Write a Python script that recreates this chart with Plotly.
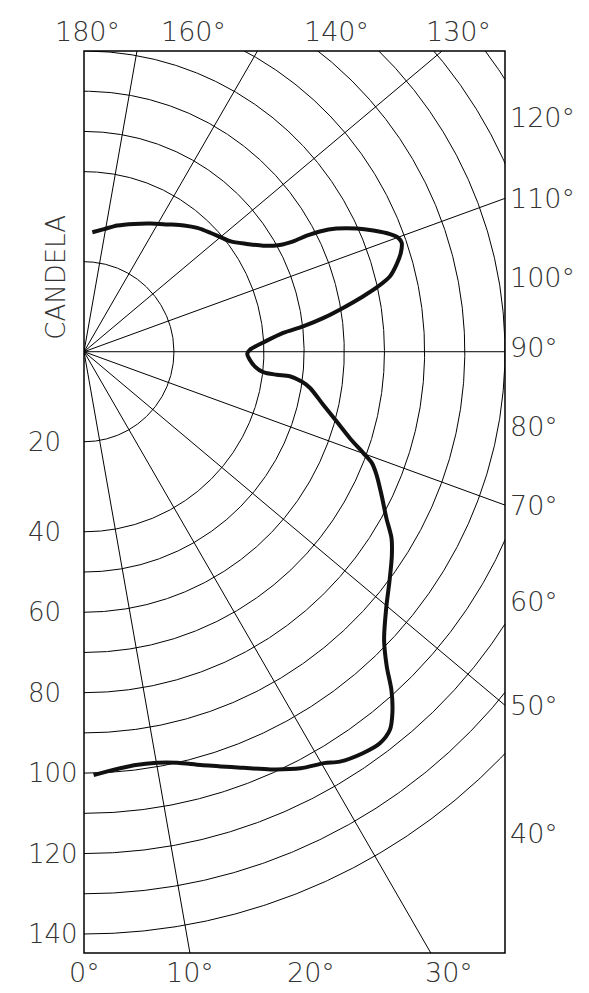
import numpy as np
import plotly.graph_objects as go

# ---------------- data ----------------
# luminous intensity curve: angle (deg, 0 = nadir/down, 90 = horizontal, 180 = up) and candela
angles = [1.3, 3.6, 6.9, 10.1, 12.8, 15.8, 19.9, 24.1, 27.5, 30.3, 32.0, 34.8, 37.1, 39.0,
          40.5, 42.3, 43.9, 46.2, 49.9, 53.3, 56.4, 58.8, 61.2, 64.3, 67.2, 68.9, 70.1, 72.0,
          74.6, 77.5, 80.9, 82.2, 83.2, 83.2, 83.5, 85.1, 87.2, 89.3, 90.7, 93.4, 95.4, 96.6,
          98.0, 99.6, 101.2, 102.5, 103.8, 105.6, 107.3, 108.9, 109.9, 111.0, 112.7, 114.3,
          116.0, 117.0, 117.5, 117.8, 118.6, 120.6, 123.5, 126.9, 130.0, 133.1, 137.5, 141.6,
          146.8, 152.5, 158.6, 165.2, 170.7, 176.0]
candela = [100.5, 99.6, 98.8, 99.0, 100.0, 102.0, 105.1, 109.0, 112.0, 113.7, 115.4, 116.8,
           117.3, 116.2, 113.4, 108.9, 103.9, 98.7, 93.6, 90.1, 87.2, 84.7, 81.1, 77.4, 74.2,
           72.0, 69.1, 64.8, 60.4, 56.2, 52.2, 49.9, 46.8, 43.5, 40.1, 38.1, 36.9, 36.3, 36.9,
           40.7, 45.0, 50.1, 55.3, 60.6, 66.0, 70.2, 73.6, 76.0, 77.8, 78.8, 78.4, 76.8, 73.3,
           69.7, 65.1, 61.1, 57.7, 54.1, 50.7, 47.0, 43.8, 40.9, 39.6, 38.6, 37.3, 35.8, 33.8,
           32.1, 30.5, 29.0, 27.6, 26.6]

circle_values = [20, 40, 50, 60, 70, 80, 90, 100, 110, 120, 130, 140]
spoke_angles = [10, 30, 50, 70, 90, 110, 130, 150, 170]
left_tick_values = [20, 40, 60, 80, 100, 120, 140]
bottom_label_angles = [0, 10, 20, 30]
top_label_angles = [180, 160, 140, 130]
right_label_angles = [120, 110, 100, 90, 80, 70, 60, 50, 40]
axis_title = "CANDELA"

# ---------------- radial scale (candela -> plot units) ----------------
SCALE_CD = [0, 20, 40, 140]
SCALE_R = [0, 90, 180, 582]


def radius(v):
    v = np.asarray(v, dtype=float)
    slope = (SCALE_R[-1] - SCALE_R[-2]) / (SCALE_CD[-1] - SCALE_CD[-2])
    r = np.interp(v, SCALE_CD, SCALE_R)
    return np.where(v > SCALE_CD[-1], SCALE_R[-1] + (v - SCALE_CD[-1]) * slope, r)


def to_xy(theta_deg, r):
    t = np.radians(theta_deg)
    return r * np.sin(t), -r * np.cos(t)


# frame (in plot units)
X_RIGHT = float(radius(100))
Y_TOP = float(radius(70))
Y_BOT = -601.0

fig = go.Figure()

# grid circles
gx, gy = [], []
th = np.linspace(0, 180, 721)
for v in circle_values:
    x, y = to_xy(th, float(radius(v)))
    gx += list(x) + [None]
    gy += list(y) + [None]
# spokes
for a in spoke_angles:
    x, y = to_xy(np.array([a, a]), np.array([0.0, 2000.0]))
    gx += list(x) + [None]
    gy += list(y) + [None]
fig.add_trace(go.Scatter(x=gx, y=gy, mode="lines", line=dict(color="black", width=1),
                         hoverinfo="skip", showlegend=False))

# intensity curve
cx, cy = to_xy(np.array(angles), radius(candela))
fig.add_trace(go.Scatter(x=cx, y=cy, mode="lines",
                         line=dict(color="#111111", width=4, shape="spline", smoothing=0.8),
                         showlegend=False))

FAMILY = "DejaVu Sans ExtraLight, DejaVu Sans Light, DejaVu Sans"
font = dict(family=FAMILY, size=27, color="#333333", weight=200)
font_left = dict(family=FAMILY, size=26, color="#333333", weight=200)


def px_to_paper_x(u):
    return u / X_RIGHT


ann = []
# left candela labels
for v in left_tick_values:
    ann.append(dict(xref="paper", x=px_to_paper_x(-58), y=-float(radius(v)), text=str(v),
                    showarrow=False, xanchor="left", yanchor="middle", font=font_left))
# bottom angle labels
bottom_shift = {20: 8, 30: 18}
for a in bottom_label_angles:
    ann.append(dict(x=-Y_BOT * np.tan(np.radians(a)), y=Y_BOT, text=f"{a}°", showarrow=False,
                    xanchor="center", yanchor="middle", yshift=-19, xshift=bottom_shift.get(a, 0),
                    font=font))
# top angle labels
top_shift = {180: 3, 130: 16}
for a in top_label_angles:
    ann.append(dict(x=Y_TOP * np.tan(np.radians(180 - a)), y=Y_TOP, text=f"{a}°", showarrow=False,
                    xanchor="center", yanchor="middle", yshift=20, xshift=top_shift.get(a, 0),
                    font=font))
# right angle labels
right_shift = {120: -9, 90: 4, 60: -6, 40: 20}
for a in right_label_angles:
    ann.append(dict(x=X_RIGHT, y=-X_RIGHT / np.tan(np.radians(a)), text=f"{a}°", showarrow=False,
                    xanchor="left", yanchor="middle", xshift=3, yshift=right_shift.get(a, 0),
                    font=font))
# axis title
ann.append(dict(xref="paper", x=px_to_paper_x(-28), y=74, text=axis_title, showarrow=False,
                textangle=-90, xanchor="center", yanchor="middle", font=font_left))

fig.update_layout(
    width=589, height=993,
    margin=dict(l=84, r=589 - 84 - round(X_RIGHT), t=352 - round(Y_TOP), b=993 - 352 + int(Y_BOT)),
    paper_bgcolor="white", plot_bgcolor="white",
    xaxis=dict(range=[0, X_RIGHT], visible=False, fixedrange=True),
    yaxis=dict(range=[Y_BOT, Y_TOP], visible=False, fixedrange=True),
    annotations=ann,
    shapes=[dict(type="rect", xref="paper", yref="paper", x0=0, y0=0, x1=1, y1=1,
                 line=dict(color="black", width=1.5))],
    showlegend=False,
)

fig.write_html("out.html", config={"displayModeBar": False},
               post_script="document.body.style.margin='0';document.body.style.padding='0';"
                           "document.body.style.overflow='hidden';")
